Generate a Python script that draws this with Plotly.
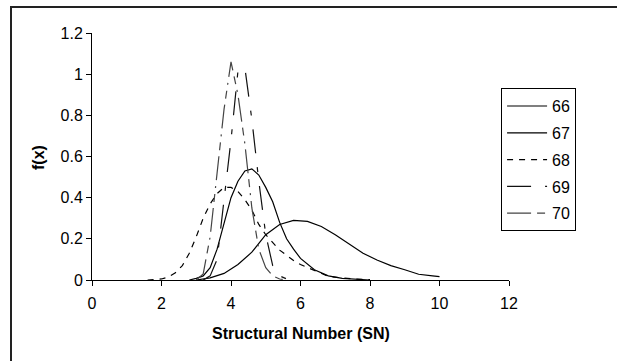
import plotly.graph_objects as go

# ---- data ----
x66 = [3.0, 3.4, 3.8, 4.2, 4.6, 5.0, 5.4, 5.8, 6.2, 6.6, 7.0, 7.4, 7.8, 8.2, 8.6, 9.0, 9.4, 9.8, 10.0]
y66 = [0.0, 0.01, 0.032, 0.075, 0.135, 0.22, 0.27, 0.29, 0.285, 0.26, 0.22, 0.175, 0.13, 0.097, 0.07, 0.05, 0.028, 0.02, 0.016]

x67 = [2.8, 3.0, 3.2, 3.4, 3.6, 3.8, 4.0, 4.2, 4.4, 4.6, 4.8, 5.0, 5.2, 5.4, 5.6, 5.8, 6.0, 6.4, 6.8, 7.2, 7.6, 8.0]
y67 = [0.0, 0.008, 0.02, 0.06, 0.15, 0.27, 0.40, 0.48, 0.53, 0.54, 0.51, 0.45, 0.38, 0.28, 0.20, 0.15, 0.105, 0.05, 0.02, 0.008, 0.003, 0.0]

x68 = [1.6, 1.8, 2.0, 2.2, 2.4, 2.6, 2.8, 3.0, 3.2, 3.4, 3.6, 3.8, 4.0, 4.2, 4.4, 4.6, 4.8, 5.0, 5.2, 5.4, 5.6, 5.8, 6.0, 6.4, 6.8, 7.2, 7.6, 8.0]
y68 = [0.0, 0.002, 0.005, 0.015, 0.035, 0.07, 0.13, 0.21, 0.30, 0.37, 0.42, 0.45, 0.45, 0.43, 0.39, 0.34, 0.27, 0.22, 0.18, 0.145, 0.12, 0.095, 0.075, 0.045, 0.018, 0.01, 0.004, 0.002]

x69 = [3.2, 3.4, 3.6, 3.8, 4.0, 4.2, 4.4, 4.6, 4.8, 5.0, 5.2, 5.4, 5.6, 5.8]
y69 = [0.0, 0.02, 0.10, 0.40, 0.68, 1.015, 1.03, 0.78, 0.48, 0.22, 0.07, 0.02, 0.005, 0.0]

x70 = [3.0, 3.2, 3.4, 3.6, 3.8, 4.0, 4.2, 4.4, 4.6, 4.8, 5.0, 5.2, 5.4, 5.6]
y70 = [0.0, 0.03, 0.21, 0.52, 0.83, 1.06, 0.90, 0.66, 0.35, 0.15, 0.06, 0.02, 0.005, 0.0]

names = ["66", "67", "68", "69", "70"]
xs = [x66, x67, x68, x69, x70]
ys = [y66, y67, y68, y69, y70]
dashes = ["solid", "solid", "6px,6px", "24px,14px,5px,14px", "24px,6px,8px,6px,2px,6px"]
colors = ["#000000", "#000000", "#000000", "#111111", "#444444"]

FONT = "Liberation Sans, Arial, sans-serif"

fig = go.Figure()
for n, xv, yv, d, c in zip(names, xs, ys, dashes, colors):
    fig.add_trace(go.Scatter(x=xv, y=yv, name=n, mode="lines",
                             line=dict(color=c, width=1.2, dash=d),
                             legendgroup=n))

fig.update_layout(
    width=617, height=361,
    margin=dict(l=92, r=108, t=33, b=81),
    paper_bgcolor="white", plot_bgcolor="white",
    font=dict(family=FONT, size=16, color="#000"),
    showlegend=True,
    legend=dict(x=0.981, y=0.777, xanchor="left", yanchor="top",
                bordercolor="#000", borderwidth=1, bgcolor="white",
                font=dict(size=16), tracegroupgap=3, itemwidth=40),
    xaxis=dict(range=[0, 12], tickvals=[0, 2, 4, 6, 8, 10, 12],
               showgrid=False, zeroline=False, showline=True, linecolor="#000",
               linewidth=1, ticks="outside", ticklen=5, tickcolor="#000",
               tickfont=dict(size=16), ticklabelstandoff=4),
    yaxis=dict(range=[0, 1.2], tickvals=[0, 0.2, 0.4, 0.6, 0.8, 1, 1.2],
               ticktext=["0", "0.2", "0.4", "0.6", "0.8", "1", "1.2"],
               showgrid=False, zeroline=False, showline=True, linecolor="#000",
               linewidth=1, ticks="outside", ticklen=5, tickcolor="#000",
               tickfont=dict(size=16)),
    annotations=[
        dict(text="<b>Structural Number (SN)</b>", xref="paper", yref="paper",
             x=0.5, y=(280 - 333) / 247, xanchor="center", yanchor="middle",
             showarrow=False, font=dict(size=16)),
        dict(text="<b>f(x)</b>", xref="paper", yref="paper",
             x=(38 - 92) / 417, y=(280 - 158) / 247, xanchor="center", yanchor="middle",
             textangle=-90, showarrow=False, font=dict(size=16)),
    ],
    shapes=[
        dict(type="rect", xref="paper", yref="paper",
             x0=(11 - 92) / 417, x1=(640 - 92) / 417,
             y0=(280 - 400) / 247, y1=(280 - 7) / 247,
             line=dict(color="#222", width=2), layer="below"),
    ],
)

fig.write_html("out.html")
